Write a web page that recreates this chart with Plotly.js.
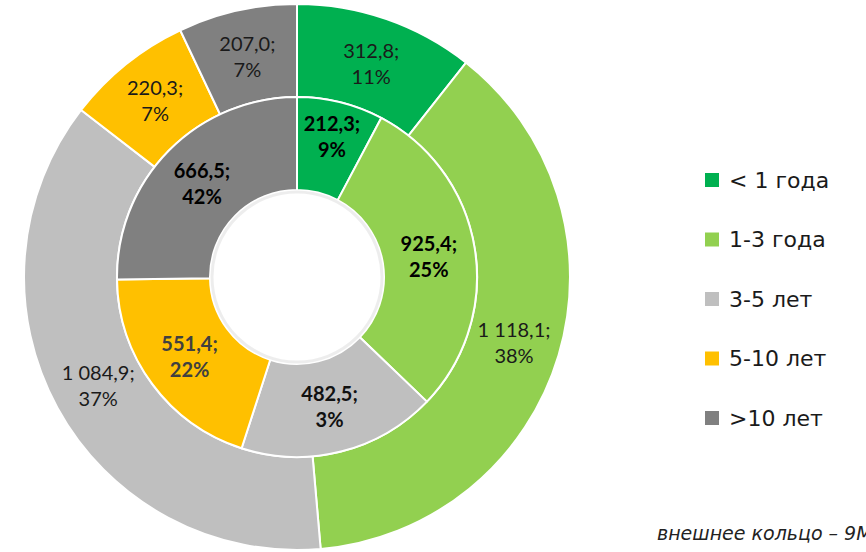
<!DOCTYPE html>
<html>
<head>
<meta charset="utf-8">
<script src="https://cdn.plot.ly/plotly-3.0.1.min.js"></script>
<style>html,body{margin:0;padding:0;background:#fff;}#chart{width:866px;height:552px;}</style>
</head>
<body>
<div id="chart"></div>
<script>
var categories = ["< 1 года", "1-3 года", "3-5 лет", "5-10 лет", ">10 лет"];
var colors = ["#00B050", "#92D050", "#BFBFBF", "#FFC000", "#808080"];
// outer ring (values as labelled; slice sizes match these)
var outerValues = [312.8, 1118.1, 1084.9, 220.3, 207.0];
var outerLabels = ["312,8;", "1 118,1;", "1 084,9;", "220,3;", "207,0;"];
var outerPct = ["11%", "38%", "37%", "7%", "7%"];
// inner ring: labelled values and the slice shares (%) as drawn in the picture
var innerValues = [212.3, 925.4, 482.5, 551.4, 666.5];
var innerShares = [7.75, 29.4, 17.8, 19.8, 25.2];
var innerLabels = ["212,3;", "925,4;", "482,5;", "551,4;", "666,5;"];
var innerPct = ["9%", "25%", "3%", "22%", "42%"];
var footnote = "внешнее кольцо – 9М";

var W = 866, H = 552;
var cx = 297, cy = 277, rOuter = 273, rMid = 180, rHole = 87;
function dom(r) {
  return {
    x: [(cx - r) / W, (cx + r) / W],
    y: [(H - cy - r) / H, (H - cy + r) / H]
  };
}
var labelFont = "Lato, 'Open Sans', sans-serif";

var outer = {
  type: "pie",
  values: outerValues,
  labels: categories,
  text: outerLabels.map(function (l, i) { return l + "<br>" + outerPct[i]; }),
  textinfo: "text",
  textposition: "inside",
  insidetextorientation: "horizontal",
  sort: false,
  direction: "clockwise",
  rotation: 0,
  hole: rMid / rOuter,
  domain: dom(rOuter),
  marker: { colors: colors, line: { color: "#ffffff", width: 2 } },
  textfont: { family: labelFont, size: 20, color: "#1a1a1a" },
  hoverinfo: "none",
  showlegend: false
};

var inner = {
  type: "pie",
  values: innerShares,
  labels: categories,
  text: innerLabels.map(function (l, i) { return "<b>" + l + "<br>" + innerPct[i] + "</b>"; }),
  textinfo: "text",
  textposition: "inside",
  insidetextorientation: "horizontal",
  sort: false,
  direction: "clockwise",
  rotation: 0,
  hole: rHole / rMid,
  domain: dom(rMid),
  marker: { colors: colors, line: { color: "#ffffff", width: 2 } },
  textfont: { family: labelFont, size: 20, color: ["#000", "#000", "#111", "#404040", "#000"] },
  hoverinfo: "none",
  showlegend: false
};

var shapes = [];
var annotations = [];
var legFont = "'DejaVu Sans', sans-serif";
var legX = 705, legY0 = 180, legGap = 59.5, sq = 14;
categories.forEach(function (c, i) {
  var y = legY0 + i * legGap;
  shapes.push({
    type: "rect", xref: "paper", yref: "paper",
    x0: legX / W, x1: (legX + sq) / W,
    y0: (H - y - sq / 2) / H, y1: (H - y + sq / 2) / H,
    fillcolor: colors[i], line: { width: 0 }
  });
  annotations.push({
    xref: "paper", yref: "paper",
    x: (legX + 22) / W, y: (H - y) / H,
    xanchor: "left", yanchor: "middle",
    text: c, showarrow: false,
    font: { family: legFont, size: 22, color: "#1a1a1a" }
  });
});
// faint shadow at the edge of the central hole
shapes.push({
  type: "circle", xref: "paper", yref: "paper",
  x0: (cx - rHole + 2) / W, x1: (cx + rHole - 2) / W,
  y0: (H - cy - rHole + 2) / H, y1: (H - cy + rHole - 2) / H,
  line: { color: "rgba(0,0,0,0.07)", width: 3 }
});
annotations.push({
  xref: "paper", yref: "paper",
  x: 655 / W, y: (H - 533) / H,
  xanchor: "left", yanchor: "middle",
  text: "<i>" + footnote + "</i>", showarrow: false,
  font: { family: legFont, size: 19, color: "#222" }
});

var layout = {
  width: W, height: H,
  margin: { l: 0, r: 0, t: 0, b: 0 },
  paper_bgcolor: "#ffffff",
  showlegend: false,
  uniformtext: { mode: "show", minsize: 20 },
  shapes: shapes,
  annotations: annotations
};

Plotly.newPlot("chart", [outer, inner], layout, { displayModeBar: false, staticPlot: true });
</script>
</body>
</html>
